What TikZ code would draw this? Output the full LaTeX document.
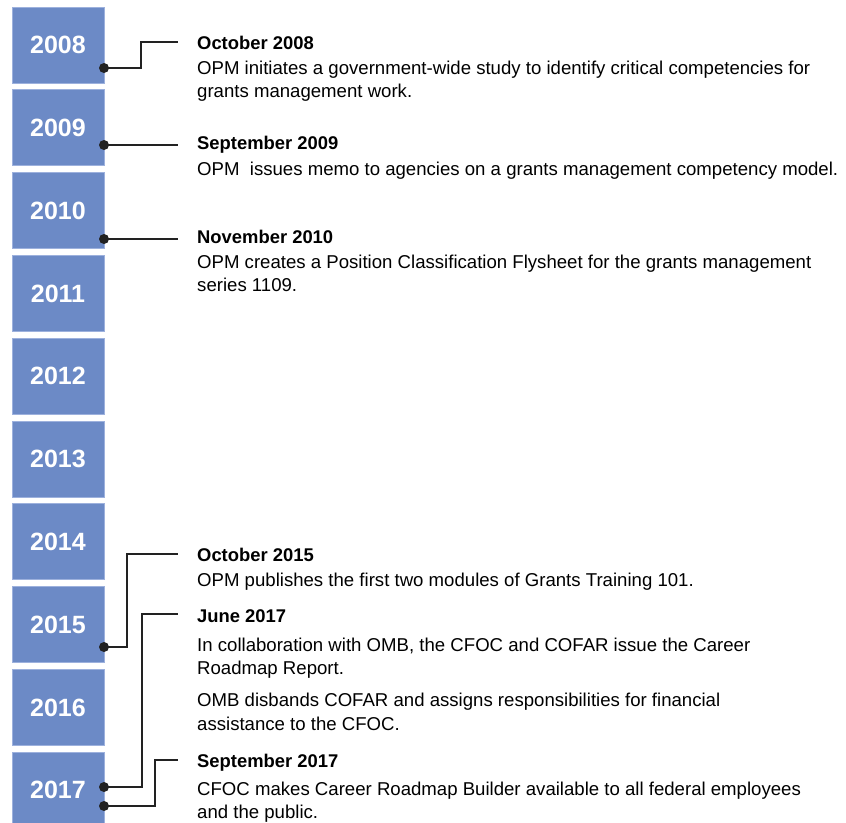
\documentclass[tikz,border=0pt]{standalone}
\usepackage{fontspec}
\setmainfont{Liberation Sans}
\definecolor{boxblue}{HTML}{6C8AC6}
\definecolor{boxedge}{HTML}{9DB1DD}
\definecolor{connclr}{HTML}{222222}
\begin{document}
\begin{tikzpicture}[x=1pt,y=-1pt,
  yearbox/.style={fill=boxblue, draw=boxedge, line width=0.8pt, minimum width=92pt, minimum height=76pt, inner sep=0pt, text=white, font=\fontsize{25}{30}\selectfont\bfseries},
  head/.style={anchor=base west, inner sep=0pt, font=\fontsize{18.4}{22}\selectfont\bfseries},
  body/.style={anchor=base west, inner sep=0pt, font=\fontsize{18.6}{22}\selectfont},
  conn/.style={draw=connclr, line width=2.4pt},
  dot/.style={fill=connclr}]
\useasboundingbox (0,0) rectangle (846,822);
\clip (0,0) rectangle (846,822);
% year boxes
\foreach \yr [count=\i from 0] in {2008,2009,2010,2011,2012,2013,2014,2015,2016,2017}{
  \node[yearbox] (y\yr) at (58,{45+82.8*\i}) {\yr};
}
% texts
\node[head] (h08) at (197,49) {October 2008};
\node[body] (t08a) at (197,74) {OPM initiates a government-wide study to identify critical competencies for};
\node[body] (t08b) at (197,97.7) {grants management work.};
\node[head] (h09) at (197,149) {September 2009};
\node[body] (t09a) at (197,175) {OPM\ \ issues memo to agencies on a grants management competency model.};
\node[head] (h10) at (197,243.3) {November 2010};
\node[body] (t10a) at (197,268.3) {OPM creates a Position Classification Flysheet for the grants management};
\node[body] (t10b) at (197,291.7) {series 1109.};
\node[head] (h15) at (197,561.7) {October 2015};
\node[body] (t15a) at (197,586.7) {OPM publishes the first two modules of Grants Training 101.};
\node[head] (hj17) at (197,622.7) {June 2017};
\node[body] (tj17a) at (197,651) {In collaboration with OMB, the CFOC and COFAR issue the Career};
\node[body] (tj17b) at (197,674) {Roadmap Report.};
\node[body] (tj17c) at (197,706.7) {OMB disbands COFAR and assigns responsibilities for financial};
\node[body] (tj17d) at (197,730) {assistance to the CFOC.};
\node[head] (hs17) at (197,767.3) {September 2017};
\node[body] (ts17a) at (197,795.7) {CFOC makes Career Roadmap Builder available to all federal employees};
\node[body] (ts17b) at (197,818.7) {and the public.};
% connector points
\coordinate (d08) at (104,68);  \coordinate (e08) at (178,42);
\coordinate (d09) at (104,145); \coordinate (e09) at (178,145);
\coordinate (d10) at (104,239); \coordinate (e10) at (178,239);
\coordinate (d15) at (104,647); \coordinate (e15) at (178,554);
\coordinate (dj17) at (104,787); \coordinate (ej17) at (178,614);
\coordinate (ds17) at (104,806); \coordinate (es17) at (178,760);
\draw[conn] (d08) -- ++(37,0) |- (e08);
\draw[conn] (d09) -- (e09);
\draw[conn] (d10) -- (e10);
\draw[conn] (d15) -- ++(23,0) |- (e15);
\draw[conn] (dj17) -- ++(38,0) |- (ej17);
\draw[conn] (ds17) -- ++(51,0) |- (es17);
\foreach \d in {d08,d09,d10,d15,dj17,ds17}{
  \fill[dot] (\d) circle (5);
}
\end{tikzpicture}
\end{document}
